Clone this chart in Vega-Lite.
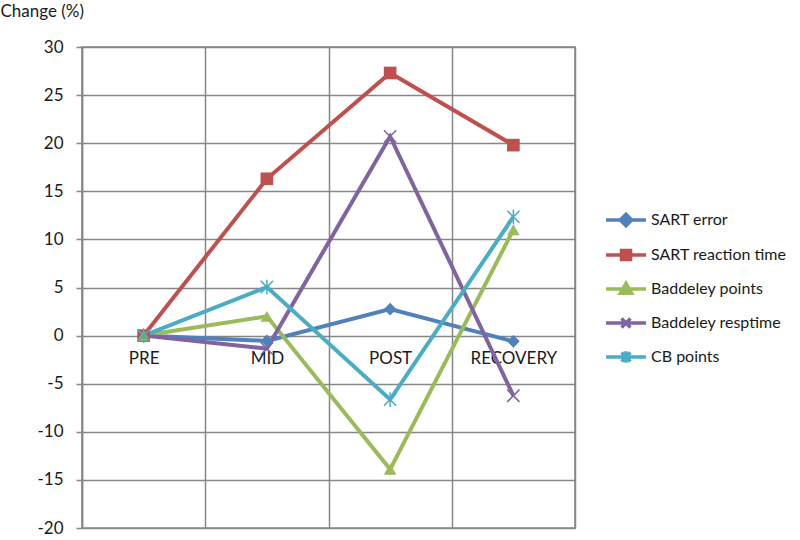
{
  "$schema": "https://vega.github.io/schema/vega-lite/v6.json",
  "width": 493,
  "height": 481,
  "autosize": "none",
  "padding": {"left": 82, "top": 47, "right": 225, "bottom": 12},
  "background": "white",
  "config": {
    "font": "Lato",
    "view": {"stroke": "#868686", "strokeWidth": 1.5},
    "axis": {
      "labelFont": "Lato", "labelFontSize": 17, "labelColor": "#1a1a1a",
      "gridColor": "#868686", "gridWidth": 1.5, "gridOpacity": 1,
      "domainColor": "#868686", "domainWidth": 1.5,
      "tickColor": "#868686", "tickWidth": 1.5
    }
  },
  "data": {
    "values": [
      {"series": "SART error", "phase": "PRE", "value": 0},
      {"series": "SART error", "phase": "MID", "value": -0.55},
      {"series": "SART error", "phase": "POST", "value": 2.75},
      {"series": "SART error", "phase": "RECOVERY", "value": -0.6},
      {"series": "SART reaction time", "phase": "PRE", "value": 0},
      {"series": "SART reaction time", "phase": "MID", "value": 16.3},
      {"series": "SART reaction time", "phase": "POST", "value": 27.3},
      {"series": "SART reaction time", "phase": "RECOVERY", "value": 19.8},
      {"series": "Baddeley points", "phase": "PRE", "value": 0},
      {"series": "Baddeley points", "phase": "MID", "value": 2.0},
      {"series": "Baddeley points", "phase": "POST", "value": -13.9},
      {"series": "Baddeley points", "phase": "RECOVERY", "value": 11.0},
      {"series": "Baddeley resptime", "phase": "PRE", "value": 0},
      {"series": "Baddeley resptime", "phase": "MID", "value": -1.35},
      {"series": "Baddeley resptime", "phase": "POST", "value": 20.7},
      {"series": "Baddeley resptime", "phase": "RECOVERY", "value": -6.25},
      {"series": "CB points", "phase": "PRE", "value": 0},
      {"series": "CB points", "phase": "MID", "value": 5.05},
      {"series": "CB points", "phase": "POST", "value": -6.65},
      {"series": "CB points", "phase": "RECOVERY", "value": 12.35}
    ]
  },
  "encoding": {
    "x": {
      "field": "phase", "type": "nominal",
      "sort": ["PRE", "MID", "POST", "RECOVERY"],
      "scale": {"type": "band", "paddingInner": 0, "paddingOuter": 0},
      "bandPosition": 0.5,
      "axis": {"title": null, "tickBand": "extent", "ticks": false, "domain": false, "offset": -192, "labelPadding": 14, "labelAngle": 0, "grid": true}
    },
    "y": {
      "field": "value", "type": "quantitative",
      "scale": {"domain": [-20, 30], "nice": false, "zero": false},
      "axis": {
        "values": [-20, -15, -10, -5, 0, 5, 10, 15, 20, 25, 30],
        "labelExpr": "'' + datum.value",
        "tickSize": 6, "labelPadding": 13, "grid": true,
        "title": "Change (%)", "titleAngle": 0, "titleAlign": "left", "titleBaseline": "top",
        "titleX": -82, "titleY": -44, "titleFontWeight": "normal", "titleFontSize": 17,
        "titleFont": "Lato", "titleColor": "#1a1a1a"
      }
    }
  },
  "layer": [
    {
      "mark": {"type": "line", "strokeWidth": 4},
      "encoding": {
        "color": {
          "field": "series", "type": "nominal",
          "scale": {
            "domain": ["SART error", "SART reaction time", "Baddeley points", "Baddeley resptime", "CB points"],
            "range": ["#4F81BD", "#C0504D", "#9BBB59", "#8064A2", "#4BACC6"]
          },
          "legend": {
            "title": null, "orient": "none", "legendX": 522, "legendY": 156,
            "symbolSize": 900, "symbolOffset": 5, "labelOffset": 8,
            "labelFontSize": 16, "labelFont": "Lato", "labelColor": "#1a1a1a",
            "labelLimit": 200,
            "rowPadding": 5,
            "encode": {
              "symbols": {
                "update": {
                  "shape": {"signal": "datum.value === 'SART error' ? 'M-1.33,0L1.33,0M0,-0.38L0.38,0L0,0.38L-0.38,0Z' : datum.value === 'SART reaction time' ? 'M-1.33,0L1.33,0M-0.3,-0.3L0.3,-0.3L0.3,0.3L-0.3,0.3Z' : datum.value === 'Baddeley points' ? 'M-1.33,0L1.33,0M0,-0.38L0.38,0.28L-0.38,0.28Z' : datum.value === 'Baddeley resptime' ? 'M-1.33,0L1.33,0M-0.3,-0.3L0.3,0.3M-0.3,0.3L0.3,-0.3' : 'M-1.33,0L1.33,0M-0.3,-0.3L0.3,0.3M-0.3,0.3L0.3,-0.3M0,-0.38L0,0.38'"},
                  "fill": [
                    {"test": "datum.value === 'Baddeley resptime' || datum.value === 'CB points'", "value": "transparent"},
                    {"scale": "color", "field": "value"}
                  ],
                  "stroke": {"scale": "color", "field": "value"},
                  "strokeWidth": {"value": 3.5},
                  "opacity": {"value": 1}
                }
              }
            }
          }
        }
      }
    },
    {
      "transform": [{"filter": "datum.series === 'SART error' || datum.series === 'SART reaction time' || datum.series === 'Baddeley points'"}],
      "mark": {"type": "point", "filled": true, "opacity": 1, "size": 160},
      "encoding": {
        "color": {"field": "series", "type": "nominal", "legend": null},
        "shape": {
          "field": "series", "type": "nominal", "legend": null,
          "scale": {
            "domain": ["SART error", "SART reaction time", "Baddeley points"],
            "range": ["diamond", "square", "triangle-up"]
          }
        }
      }
    },
    {
      "transform": [{"filter": "datum.series === 'Baddeley resptime' || datum.series === 'CB points'"}],
      "mark": {"type": "point", "filled": false, "opacity": 1, "size": 150, "strokeWidth": 1.5},
      "encoding": {
        "color": {"field": "series", "type": "nominal", "legend": null},
        "shape": {
          "field": "series", "type": "nominal", "legend": null,
          "scale": {
            "domain": ["Baddeley resptime", "CB points"],
            "range": ["M-1,-1L1,1M-1,1L1,-1", "M-1,-1L1,1M-1,1L1,-1M0,-1.2L0,1.2"]
          }
        }
      }
    }
  ],
  "resolve": {"scale": {"shape": "independent"}}
}
